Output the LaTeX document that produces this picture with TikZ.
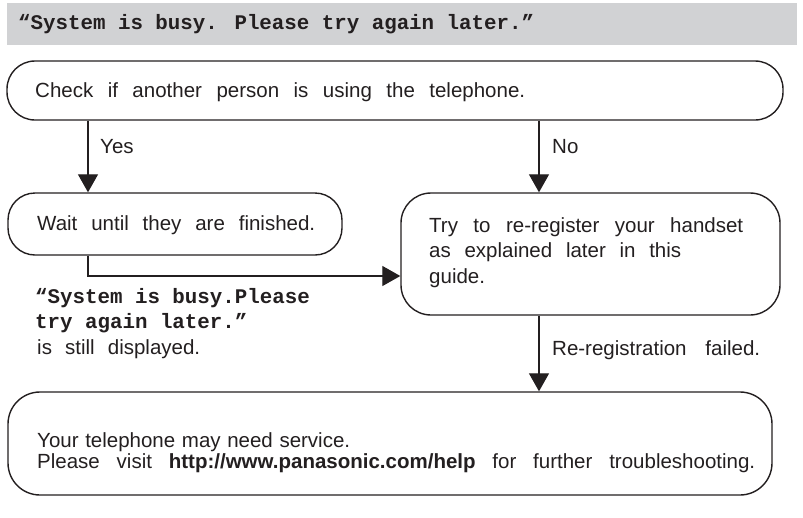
\documentclass[tikz,border=0pt]{standalone}
\usepackage{fontspec}
\setmainfont{Liberation Sans}
\newfontfamily\monofont{Liberation Mono}
\usetikzlibrary{arrows.meta}
\definecolor{ink}{HTML}{231F20}
\definecolor{band}{HTML}{D1D2D4}
\begin{document}
\begin{tikzpicture}[x=1pt,y=-1pt,
  box/.style={draw=ink, line width=1.4pt, inner sep=0pt},
  txt/.style={inner sep=0pt, anchor=base west, text=ink, font=\fontsize{20.5}{24}\selectfont},
  mono/.style={inner sep=0pt, anchor=base west, text=ink, font=\monofont\bfseries\fontsize{20.8}{24}\selectfont},
  arr/.style={draw=ink, line width=1.3pt, -{Triangle[length=18pt,width=20pt]}}]
\useasboundingbox (0,0) rectangle (803,517);
% banner
\node[fill=band, minimum width=790pt, minimum height=42pt, inner sep=0pt] (band) at (402,24) {};
\node[mono] (bt) at (18,29) {“System is busy. Please try again later.”};
% boxes
\node[box, rounded corners=28pt, minimum width=776pt, minimum height=59pt] (top) at (395,90.5) {};
\node[box, rounded corners=27pt, minimum width=334pt, minimum height=62pt] (wait) at (175,224) {};
\node[box, rounded corners=30pt, minimum width=379pt, minimum height=122pt] (try) at (590.5,254) {};
\node[box, rounded corners=32pt, minimum width=764pt, minimum height=103pt] (final) at (390,443.5) {};
% texts
\node[txt] (t1) at (35,97) {\makebox[490pt][s]{Check if another person is using the telephone.}};
\node[txt] (yes) at (100,153) {Yes};
\node[txt] (no) at (552,153) {No};
\node[txt] (t2) at (37,230) {\makebox[278pt][s]{Wait until they are finished.}};
\node[txt] (t3a) at (429,232) {\makebox[314pt][s]{Try to re-register your handset}};
\node[txt] (t3b) at (429,257.5) {\makebox[252pt][s]{as explained later in this}};
\node[txt] (t3c) at (429,283) {guide.};
\node[txt] (rf) at (552,355) {\makebox[208pt][s]{Re-registration failed.}};
\node[mono] (m1) at (35,303) {“System is busy.Please};
\node[mono] (m2) at (35,328) {try again later.”};
\node[txt] (m3) at (37,354) {\makebox[163pt][s]{is still displayed.}};
\node[txt] (f1) at (37,447) {\makebox[313pt][s]{Your telephone may need service.}};
\node[txt] (f2) at (37,468) {\makebox[718pt][s]{Please visit \textbf{http://www.panasonic.com/help} for further troubleshooting.}};
% connectors
\coordinate (yx) at (88,0);
\coordinate (nx) at (539,0);
\coordinate (hy) at (0,276);
\draw[arr] (top.south -| yx) -- (wait.north -| yx);
\draw[arr] (top.south -| nx) -- (try.north -| nx);
\draw[arr] (wait.south -| yx) |- (try.west |- hy);
\draw[arr] (try.south -| nx) -- (final.north -| nx);
\end{tikzpicture}
\end{document}
